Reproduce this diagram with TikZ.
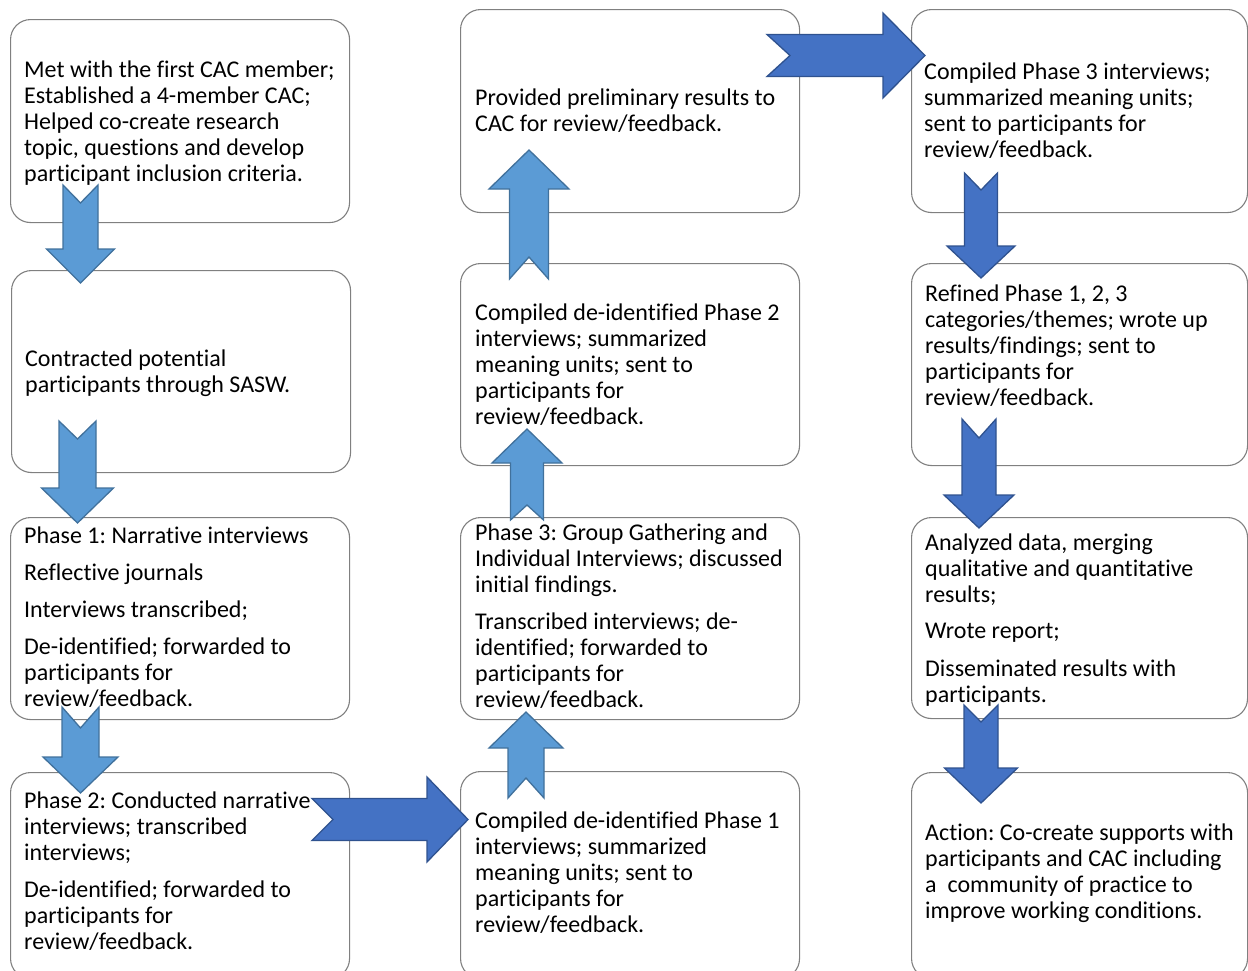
\documentclass[tikz,border=0pt]{standalone}
\usepackage{fontspec}
\setmainfont[Ligatures=CommonOff]{Carlito}
\frenchspacing
\definecolor{boxgray}{RGB}{128,128,128}
\definecolor{lightblue}{RGB}{91,155,213}
\definecolor{lightblueedge}{RGB}{65,113,156}
\definecolor{darkblue}{RGB}{68,114,196}
\definecolor{darkblueedge}{RGB}{47,82,143}
\tikzset{
  box/.style={draw=boxgray, line width=1.1bp, rounded corners=20bp, fill=white, inner sep=0pt, anchor=north west},
  txt/.style={align=left, anchor=base west, inner sep=0pt, font=\fontsize{24.1}{26}\selectfont},
  lightarr/.style={fill=lightblue, draw=lightblueedge, line width=1.3bp, line join=miter},
  darkarr/.style={fill=darkblue, draw=darkblueedge, line width=1.3bp, line join=miter}
}
% vertical block arrow with notched tail: style, cx, tail y, notch y, head-base y, tip y, shaft half width, head half width
\newcommand{\BlockArrV}[8]{%
  \draw[#1] ({#2-#7},#3) -- (#2,#4) -- ({#2+#7},#3) -- ({#2+#7},#5) -- ({#2+#8},#5) -- (#2,#6) -- ({#2-#8},#5) -- ({#2-#7},#5) -- cycle;}
% horizontal block arrow with notched tail: style, cy, tail x, notch x, head-base x, tip x, shaft half width, head half width
\newcommand{\BlockArrH}[8]{%
  \draw[#1] (#3,{#2-#7}) -- (#4,#2) -- (#3,{#2+#7}) -- (#5,{#2+#7}) -- (#5,{#2+#8}) -- (#6,#2) -- (#5,{#2-#8}) -- (#5,{#2-#7}) -- cycle;}
\begin{document}
\begin{tikzpicture}[x=1bp,y=-1bp]
\useasboundingbox (0,0) rectangle (1248,971);
% boxes
\node[box, minimum width=339bp, minimum height=203bp] (A) at (10,19) {};
\node[box, minimum width=339bp, minimum height=202bp] (B) at (11,270) {};
\node[box, minimum width=339bp, minimum height=202bp] (C) at (10,517) {};
\node[box, minimum width=339bp, minimum height=206bp] (D) at (10,772) {};
\node[box, minimum width=339bp, minimum height=203bp] (E) at (460,9) {};
\node[box, minimum width=339bp, minimum height=202bp] (F) at (460,263) {};
\node[box, minimum width=339bp, minimum height=202bp] (G) at (460,517) {};
\node[box, minimum width=339bp, minimum height=207bp] (H) at (460,771) {};
\node[box, minimum width=336bp, minimum height=203bp] (I) at (911,9) {};
\node[box, minimum width=336bp, minimum height=202bp] (J) at (911,263) {};
\node[box, minimum width=336bp, minimum height=201bp] (K) at (911,517) {};
\node[box, minimum width=336bp, minimum height=206bp] (L) at (911,772) {};
% texts (anchored at the baseline of their last line)
\node[txt] (tA) at (24,181) {Met with the first CAC member;\\Established a 4-member CAC;\\Helped co-create research\\topic, questions and develop\\participant inclusion criteria.};
\node[txt] (tB) at (25,392) {Contracted potential\\participants through SASW.};
\node[txt] (tC) at (24,706) {Phase 1: Narrative interviews\\[11bp]Reflective journals\\[11bp]Interviews transcribed;\\[11bp]De-identified; forwarded to\\participants for\\review/feedback.};
\node[txt] (tD) at (24,949) {Phase 2: Conducted narrative\\interviews; transcribed\\interviews;\\[11bp]De-identified; forwarded to\\participants for\\review/feedback.};
\node[txt] (tE) at (475,131) {Provided preliminary results to\\CAC for review/feedback.};
\node[txt] (tF) at (475,424) {Compiled de-identified Phase 2\\interviews; summarized\\meaning units; sent to\\participants for\\review/feedback.};
\node[txt] (tG) at (475,707) {Phase 3: Group Gathering and\\Individual Interviews; discussed\\initial findings.\\[11bp]Transcribed interviews; de-\\identified; forwarded to\\participants for\\review/feedback.};
\node[txt] (tH) at (475,932) {Compiled de-identified Phase 1\\interviews; summarized\\meaning units; sent to\\participants for\\review/feedback.};
\node[txt] (tI) at (924,157) {Compiled Phase 3 interviews;\\summarized meaning units;\\sent to participants for\\review/feedback.};
\node[txt] (tJ) at (925,405) {Refined Phase 1, 2, 3\\categories/themes; wrote up\\results/findings; sent to\\participants for\\review/feedback.};
\node[txt] (tK) at (925,702) {Analyzed data, merging\\qualitative and quantitative\\results;\\[10bp]Wrote report;\\[12bp]Disseminated results with\\participants.};
\node[txt] (tL) at (925,918) {Action: Co-create supports with\\participants and CAC including\\a\ \ community of practice to\\improve working conditions.};
% block arrows
\BlockArrV{lightarr}{80.5}{185}{203}{249}{283}{17.5}{34}
\BlockArrV{lightarr}{77.5}{421}{439}{488}{523}{18.5}{36}
\BlockArrV{lightarr}{80.5}{707}{728}{757}{793}{18.5}{37.5}
\BlockArrH{darkarr}{819.5}{312}{333}{427}{468}{21}{42.5}
\BlockArrV{lightarr}{526}{798}{778}{748}{712}{18}{37}
\BlockArrV{lightarr}{527}{520}{505}{463}{429}{16.5}{35}
\BlockArrV{lightarr}{529}{279}{257}{189}{150}{19.5}{40}
\BlockArrH{darkarr}{55.5}{767}{790}{883}{925}{21}{42.5}
\BlockArrV{darkarr}{981}{173}{190}{246}{278}{16.5}{34}
\BlockArrV{darkarr}{979}{419}{438}{495}{528}{17}{35}
\BlockArrV{darkarr}{981}{705}{722}{768}{803}{17}{36.5}
\end{tikzpicture}
\end{document}
